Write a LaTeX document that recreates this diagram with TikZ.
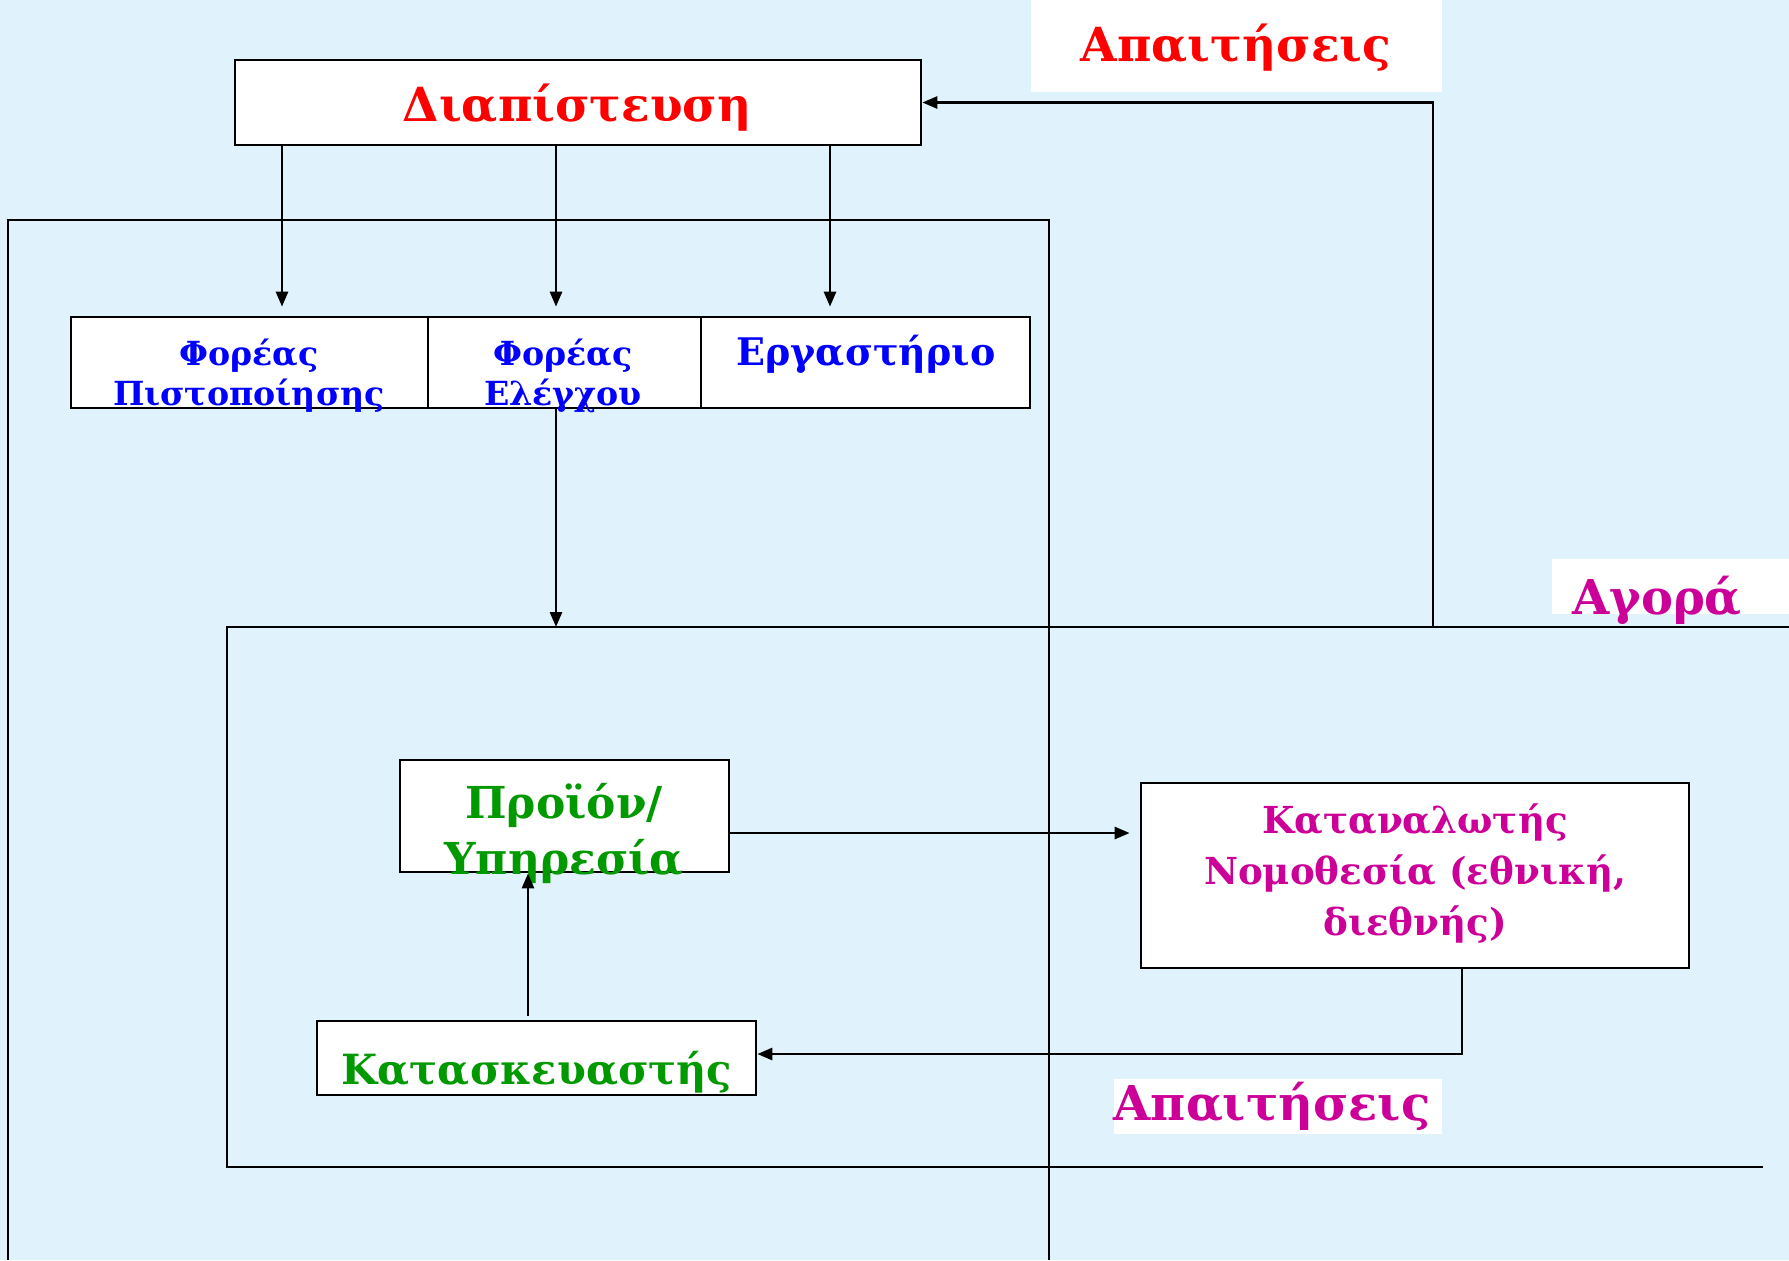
\documentclass[tikz,border=0pt]{standalone}
\usepackage{fontspec}
\setmainfont{DejaVu Serif}
\usetikzlibrary{arrows.meta,calc}
\definecolor{bgblue}{RGB}{224,243,252}
\definecolor{cred}{RGB}{255,0,0}
\definecolor{cblue}{RGB}{0,0,255}
\definecolor{cgreen}{RGB}{0,153,0}
\definecolor{cmag}{RGB}{204,0,153}
\begin{document}
\begin{tikzpicture}[x=0.5pt,y=-0.5pt,line width=1.35pt,
  box/.style={draw=black,fill=white,inner sep=0pt,line width=1.35pt},
  wbox/.style={fill=white,draw=none,inner sep=0pt},
  arr/.style={-{Triangle[length=7.5pt,width=6pt]}},
  redtxt/.style={text=cred,inner sep=0pt,font=\fontsize{23.5}{28}\selectfont\bfseries},
  bluetxt/.style={text=cblue,inner sep=0pt,align=center,font=\fontsize{16.6}{20}\selectfont\bfseries},
  bluebig/.style={text=cblue,inner sep=0pt,font=\fontsize{19}{22}\selectfont\bfseries},
  greentxt/.style={text=cgreen,inner sep=0pt,align=center,font=\fontsize{22}{28}\selectfont\bfseries},
  greensm/.style={text=cgreen,inner sep=0pt,font=\fontsize{20.8}{26}\selectfont\bfseries},
  magtxt/.style={text=cmag,inner sep=0pt,align=center,font=\fontsize{18.6}{25.5}\selectfont\bfseries},
  magbig/.style={text=cmag,inner sep=0pt,font=\fontsize{24}{28}\selectfont\bfseries}]
\fill[bgblue] (0,0) rectangle (1789,1260);
\useasboundingbox (0,0) rectangle (1789,1260);

% outer frames
\draw (8,1260) -- (8,220) -- (1049,220) -- (1049,1260);
\draw (1789,627) -- (227,627) -- (227,1167) -- (1763,1167);

% label backgrounds
\node[wbox,minimum width=205.5pt,minimum height=46pt] (reqtopbg) at (1236.5,46) {};
\node[wbox,minimum width=118.5pt,minimum height=27.5pt] (agorabg) at (1670.5,586.5) {};
\node[wbox,minimum width=164pt,minimum height=27.5pt] (reqbotbg) at (1278,1106.5) {};

% boxes
\node[box,minimum width=343pt,minimum height=42.5pt] (diap) at (578,102.5) {};
\node[box,minimum width=178.5pt,minimum height=45.5pt] (fp) at (249.5,362.5) {};
\node[box,minimum width=136.5pt,minimum height=45.5pt] (fe) at (564.5,362.5) {};
\node[box,minimum width=164.5pt,minimum height=45.5pt] (erg) at (865.5,362.5) {};
\node[box,minimum width=164.5pt,minimum height=56pt] (prod) at (564.5,816) {};
\node[box,minimum width=274pt,minimum height=92.5pt] (kat) at (1415,875.5) {};
\node[box,minimum width=219.5pt,minimum height=37pt] (kats) at (536.5,1058) {};

% texts
\node[redtxt,anchor=base] (diapT) at (577,121) {Διαπίστευση};
\node[redtxt,anchor=base] (reqtop) at (1236,61) {Απαιτήσεις};
\node[bluetxt] (fpT) at (249,376) {Φορέας\\Πιστοποίησης};
\node[bluetxt] (feT) at (563,376) {Φορέας\\Ελέγχου};
\node[bluebig,anchor=base] (ergT) at (866,365) {Εργαστήριο};
\node[greentxt] (prodT) at (564,833) {Προϊόν/\\Υπηρεσία};
\node[magtxt] (katT) at (1415,873) {Καταναλωτής\\Νομοθεσία (εθνική,\\διεθνής)};
\node[greensm,anchor=base] (katsT) at (537,1084) {Κατασκευαστής};
\node[magbig,anchor=base] (agora) at (1657,614) {Αγορά};
\node[magbig,anchor=base] (reqbot) at (1272,1120) {Απαιτήσεις};

% connectors
\coordinate (a1) at (282,145);
\coordinate (a2) at (556,145);
\coordinate (a3) at (830,145);
\draw[arr,shorten >=4.5pt] (a1) -- (a1 |- fp.north);
\draw[arr,shorten >=4.5pt] (a2) -- (a2 |- fe.north);
\draw[arr,shorten >=4.5pt] (a3) -- (a3 |- erg.north);

\coordinate (mk) at (556,627);
\draw[arr] (mk |- fe.south) -- (mk);

\coordinate (rq) at (1433,627);
\draw[arr] (rq) |- (diap.east);

\coordinate (pk) at (729,833);
\draw[arr,shorten >=5pt] (pk) -- (pk -| kat.west);

\coordinate (kb) at (1462,968);
\draw[arr] (kb) |- ([yshift=2pt]kats.east);

\coordinate (up) at (528,1016);
\draw[arr] (up) -- (up |- prod.south);
\end{tikzpicture}
\end{document}
